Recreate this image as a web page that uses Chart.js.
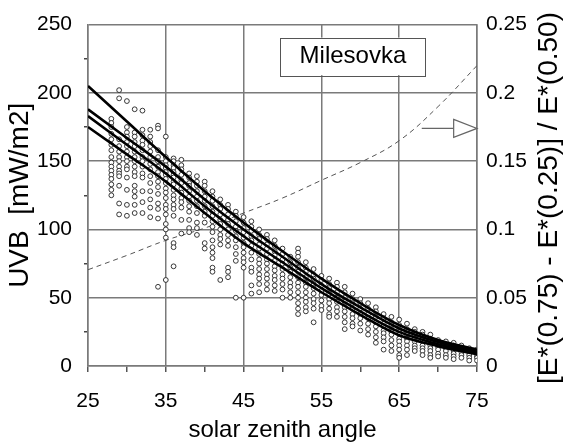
<!DOCTYPE html>
<html>
<head>
<meta charset="utf-8">
<script src="https://cdn.jsdelivr.net/npm/chart.js@4.4.1/dist/chart.umd.min.js"></script>
<style>
  html, body { margin: 0; padding: 0; background: #fff; }
  #wrap { width: 563px; height: 446px; }
</style>
</head>
<body>
<div id="wrap"><canvas id="uvbChart"></canvas></div>
<script>
// measured UVB, one list of values per solar zenith angle
const scatterAngles = [28, 29, 30, 31, 32, 33, 34, 35, 36, 37, 38, 39, 40, 41, 42, 43, 44, 45, 46, 47, 48, 49, 50,
  51, 52, 53, 54, 55, 56, 57, 58, 59, 60, 61, 62, 63, 64, 65, 66, 67, 68, 69, 70, 71, 72, 73, 74, 75];
const scatterUVB = [
  [181, 178, 175, 170, 166, 162, 158, 153, 149, 146, 143, 140, 137, 133, 129, 125],
  [202, 196, 166, 161, 157, 153, 150, 146, 143, 141, 139, 132, 119, 111],
  [194, 175, 171, 168, 164, 161, 157, 153, 150, 146, 144, 138, 129, 118, 110],
  [188, 171, 168, 164, 161, 157, 153, 150, 146, 142, 139, 132, 128, 124, 118, 112],
  [187, 173, 169, 165, 162, 158, 153, 150, 146, 141, 138, 128, 120, 112],
  [173, 168, 164, 161, 157, 153, 148, 144, 139, 134, 128, 122, 116, 109],
  [176, 174, 158, 153, 150, 146, 142, 139, 135, 131, 126, 119, 115, 108, 58],
  [168, 153, 150, 147, 145, 142, 140, 137, 134, 130, 127, 123, 118, 115, 111, 104, 100, 94, 63],
  [152, 150, 147, 145, 142, 140, 138, 135, 133, 129, 125, 122, 118, 115, 110, 90, 87, 73],
  [151, 147, 144, 140, 136, 134, 130, 127, 123, 120, 116, 107, 97],
  [141, 138, 134, 132, 128, 124, 121, 117, 113, 107, 101, 98],
  [139, 135, 132, 128, 124, 121, 117, 112, 105, 101, 96],
  [135, 132, 128, 124, 121, 117, 113, 110, 105, 90, 86],
  [128, 124, 121, 117, 113, 110, 106, 102, 98, 92, 87, 83, 79, 72, 69],
  [122, 118, 115, 111, 107, 104, 100, 96, 93, 89, 63],
  [118, 115, 111, 107, 104, 100, 96, 92, 88, 72, 69, 65],
  [113, 110, 106, 102, 99, 95, 92, 87, 82, 77, 50],
  [109, 105, 101, 98, 94, 90, 87, 83, 79, 76, 72, 50],
  [106, 102, 99, 95, 92, 88, 83, 78, 72, 69, 59, 53],
  [100, 96, 93, 89, 86, 82, 78, 75, 71, 67, 64, 60, 54],
  [96, 93, 89, 86, 82, 78, 75, 71, 67, 64, 60, 56],
  [92, 88, 84, 81, 77, 73, 70, 66, 63, 59, 55],
  [86, 82, 78, 75, 71, 67, 64, 60, 56, 50],
  [80, 76, 72, 69, 65, 61, 58, 54, 50],
  [86, 83, 80, 76, 72, 69, 65, 61, 58, 54, 50, 46, 42, 38],
  [76, 72, 69, 65, 61, 58, 54, 50, 47, 43, 40],
  [71, 67, 64, 60, 57, 53, 49, 46, 42, 32],
  [66, 63, 59, 55, 52, 48, 44, 41],
  [64, 60, 57, 53, 49, 46, 42, 38, 36],
  [61, 58, 54, 50, 47, 43, 40, 36],
  [58, 54, 50, 47, 43, 40, 36, 32, 27],
  [53, 49, 46, 42, 38, 35, 31, 29],
  [49, 46, 42, 38, 35, 31, 26],
  [46, 42, 38, 35, 31, 27, 23],
  [43, 40, 36, 32, 29, 25, 21, 17],
  [38, 35, 31, 29, 26, 24, 21, 18, 12],
  [36, 32, 30, 27, 25, 23, 19, 15, 11],
  [34, 30, 27, 25, 23, 20, 18, 15, 12, 8, 6],
  [31, 27, 25, 23, 20, 18, 15, 12, 8],
  [27, 25, 23, 20, 18, 15, 13, 11],
  [25, 23, 20, 18, 15, 13, 11, 8],
  [23, 20, 18, 15, 13, 11, 8, 6],
  [19, 17, 14, 12, 9, 7],
  [18, 15, 13, 11, 8, 6],
  [17, 15, 13, 11, 9, 7, 5],
  [15, 13, 11, 10, 8, 6],
  [13, 11, 10, 8, 6, 4],
  [12, 10, 9, 7, 6, 4]
];

// fitted curves
const curveAngles = [25, 30, 35, 40, 45, 50, 55, 60, 65, 70, 75];
const uvbTop = [205, 179, 153, 128, 105, 84, 64, 46, 30, 19, 12];
const uvbQ75 = [188, 167, 146, 122, 100, 80, 60, 43, 27.5, 17.5, 10.5];
const uvbQ50 = [183, 162, 141, 117, 95, 76, 57, 40, 25, 16, 9.5];
const uvbQ25 = [175, 155, 135, 112, 90, 72, 54, 37.5, 22.5, 14.5, 8.5];
// (E(0.75) - E(0.25)) / E(0.50), right axis
const spreadRatio = [0.0705, 0.081, 0.092, 0.101, 0.112, 0.123, 0.136, 0.149, 0.165, 0.19, 0.22];

const xTickLabels = [25, 35, 45, 55, 65, 75];
const uvbTickLabels = [0, 50, 100, 150, 200, 250];
const ratioTickLabels = [0, 0.05, 0.1, 0.15, 0.2, 0.25];

const FONT = "'Liberation Sans', Arial, sans-serif";
const GRID = '#7a7a7a';

const points = [];
scatterAngles.forEach((a, i) => {
  scatterUVB[i].forEach(v => points.push({ x: a, y: v }));
});

const toXY = arr => curveAngles.map((a, i) => ({ x: a, y: arr[i] }));

function curve(arr) {
  return {
    type: 'line',
    data: toXY(arr),
    borderColor: '#000',
    borderWidth: 2.6,
    pointRadius: 0,
    cubicInterpolationMode: 'monotone',
    yAxisID: 'y',
    order: 1
  };
}

// station label, arrow and right-hand title
const extras = {
  id: 'extras',
  afterDraw(chart) {
    const { ctx, scales: { x, y, y2 } } = chart;
    ctx.save();

    // "Milesovka" box
    const bx0 = x.getPixelForValue(49.7), bx1 = x.getPixelForValue(68.4);
    const by0 = y.getPixelForValue(240.5), by1 = y.getPixelForValue(213);
    ctx.fillStyle = '#fff';
    ctx.fillRect(bx0, by0, bx1 - bx0, by1 - by0);
    ctx.strokeStyle = '#555';
    ctx.lineWidth = 1;
    ctx.strokeRect(Math.round(bx0) + 0.5, Math.round(by0) + 0.5, Math.round(bx1 - bx0), Math.round(by1 - by0));
    ctx.fillStyle = '#000';
    ctx.font = '24px ' + FONT;
    ctx.textAlign = 'center';
    ctx.textBaseline = 'middle';
    ctx.fillText('Milesovka', (bx0 + bx1) / 2, (by0 + by1) / 2);

    // arrow pointing to the right axis
    const ay = y2.getPixelForValue(0.174);
    const ax0 = x.getPixelForValue(67.9), ax1 = x.getPixelForValue(72), ax2 = x.getPixelForValue(75);
    ctx.strokeStyle = '#666';
    ctx.lineWidth = 1.2;
    ctx.beginPath();
    ctx.moveTo(ax0, ay);
    ctx.lineTo(ax1, ay);
    ctx.stroke();
    ctx.beginPath();
    ctx.moveTo(ax1, ay - 9);
    ctx.lineTo(ax2, ay);
    ctx.lineTo(ax1, ay + 9);
    ctx.closePath();
    ctx.fillStyle = '#fff';
    ctx.fill();
    ctx.stroke();

    // right axis title, reading bottom to top
    ctx.fillStyle = '#000';
    ctx.font = '28px ' + FONT;
    ctx.translate(549, 198);
    ctx.rotate(-Math.PI / 2);
    ctx.fillText('[E*(0.75) - E*(0.25)] / E*(0.50)', 0, 0);
    ctx.restore();
  }
};

new Chart(document.getElementById('uvbChart'), {
  type: 'scatter',
  data: {
    datasets: [
      curve(uvbTop),
      curve(uvbQ75),
      curve(uvbQ50),
      curve(uvbQ25),
      {
        type: 'scatter',
        data: points,
        pointRadius: 2.4,
        pointBorderWidth: 0.9,
        pointBorderColor: '#222',
        pointBackgroundColor: '#fff',
        yAxisID: 'y',
        order: 2
      },
      {
        type: 'line',
        data: toXY(spreadRatio),
        borderColor: '#555',
        borderWidth: 1,
        borderDash: [5, 4],
        pointRadius: 0,
        tension: 0.4,
        yAxisID: 'y2',
        order: 3
      }
    ]
  },
  options: {
    responsive: true,
    maintainAspectRatio: false,
    animation: false,
    layout: { padding: { top: 22, left: 0, right: 0, bottom: 0 } },
    plugins: { legend: { display: false }, tooltip: { enabled: false } },
    scales: {
      x: {
        type: 'linear',
        min: 25, max: 75,
        afterFit: s => { s.height = 80; },
        ticks: {
          stepSize: 5,
          autoSkip: false,
          maxRotation: 0,
          padding: 17,
          color: '#000',
          font: { family: FONT, size: 21 },
          callback: v => xTickLabels.includes(v) ? String(v) : ''
        },
        grid: {
          color: c => (c.tick && xTickLabels.includes(c.tick.value)) ? GRID : 'rgba(0,0,0,0)',
          lineWidth: 1.5,
          drawTicks: true,
          tickLength: 6,
          tickColor: '#555'
        },
        border: { display: true, color: GRID, width: 1.5 },
        title: {
          display: true,
          text: 'solar zenith angle',
          color: '#000',
          font: { family: FONT, size: 24, lineHeight: 1 },
          padding: { top: 0, bottom: 4 }
        }
      },
      y: {
        position: 'left',
        min: 0, max: 250,
        afterFit: s => { s.width = 88; },
        ticks: {
          stepSize: 25,
          autoSkip: false,
          padding: 12,
          color: '#000',
          font: { family: FONT, size: 21 },
          callback: v => uvbTickLabels.includes(v) ? String(v) : ''
        },
        grid: {
          color: c => (c.tick && uvbTickLabels.includes(c.tick.value)) ? GRID : 'rgba(0,0,0,0)',
          lineWidth: 1.5,
          drawTicks: true,
          tickLength: 4,
          tickColor: c => (c.tick && uvbTickLabels.includes(c.tick.value)) ? 'rgba(0,0,0,0)' : '#444'
        },
        border: { display: true, color: GRID, width: 1.5 },
        title: {
          display: true,
          text: 'UVB  [mW/m2]',
          color: '#000',
          font: { family: FONT, size: 28, lineHeight: 1 },
          padding: { top: 6, bottom: 0 }
        }
      },
      y2: {
        position: 'right',
        min: 0, max: 0.25,
        afterFit: s => { s.width = 86; },
        ticks: {
          stepSize: 0.05,
          autoSkip: false,
          padding: 9,
          color: '#000',
          font: { family: FONT, size: 21 },
          callback: v => {
            const r = +v.toFixed(2);
            return ratioTickLabels.includes(r) ? String(r) : '';
          }
        },
        grid: { display: false, drawTicks: false },
        border: { display: true, color: GRID, width: 1.5 }
      }
    }
  },
  plugins: [extras]
});
</script>
</body>
</html>
